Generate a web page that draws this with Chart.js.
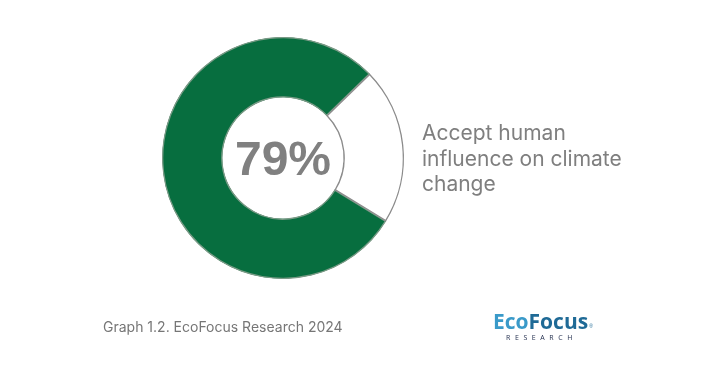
<!DOCTYPE html>
<html>
<head>
<meta charset="utf-8">
<script src="https://cdn.jsdelivr.net/npm/chart.js@4/dist/chart.umd.min.js"></script>
<style>
  html, body { margin: 0; padding: 0; background: #fff; }
  #wrap { position: relative; width: 720px; height: 389px; }
</style>
</head>
<body>
<div id="wrap"><canvas id="c" width="720" height="389"></canvas></div>
<script>
// values
const categories = ['Accept', 'Other'];
const shares = [79, 21];
const centerLabel = '79%';
const sideLabel = ['Accept human', 'influence on climate', 'change'];
const footnote = 'Graph 1.2. EcoFocus Research 2024';

const GREEN = '#076e3f';
const GREY_TEXT = '#7f7f7f';

// center value, side label, footnote and logo
const textPlugin = {
  id: 'texts',
  afterDraw(chart) {
    const ctx = chart.ctx;
    const meta = chart.getDatasetMeta(0).data[0];
    ctx.save();
    ctx.fillStyle = '#808080';
    ctx.font = 'bold 48px "Liberation Sans", Arial, sans-serif';
    ctx.textAlign = 'center';
    ctx.textBaseline = 'alphabetic';
    ctx.fillText(centerLabel, meta.x, meta.y + 17);

    ctx.textAlign = 'left';
    ctx.fillStyle = GREY_TEXT;
    ctx.font = '21px Inter, "Open Sans", sans-serif';
    sideLabel.forEach((line, i) => ctx.fillText(line, 422, 140 + i * 25.5));

    ctx.font = '14px Inter, "Open Sans", sans-serif';
    ctx.fillStyle = '#767676';
    ctx.fillText(footnote, 103, 332);

    // logo
    ctx.font = 'bold 21px "Open Sans", Inter, sans-serif';
    ctx.fillStyle = '#3a9ac9';
    ctx.fillText('Eco', 493, 329);
    const w = ctx.measureText('Eco').width;
    ctx.fillStyle = '#1f6a96';
    ctx.fillText('Focus', 493 + w, 329);
    const w2 = ctx.measureText('Focus').width;
    ctx.font = '5px sans-serif';
    ctx.fillText('®', 493 + w + w2 + 1, 328);
    ctx.font = '7px "Open Sans", sans-serif';
    ctx.fillStyle = '#1e2a4a';
    ctx.letterSpacing = '4.6px';
    ctx.fillText('RESEARCH', 506, 340);
    ctx.restore();
  }
};

new Chart(document.getElementById('c'), {
  type: 'doughnut',
  data: {
    labels: categories,
    datasets: [{
      data: shares,
      backgroundColor: [GREEN, '#ffffff'],
      borderColor: ['#7a9a86', '#8c8c8c'],
      borderWidth: 1,
      borderAlign: 'inner',
    }]
  },
  options: {
    responsive: false,
    animation: false,
    rotation: 121.5,
    cutout: '50%',
    layout: { padding: { left: 162, right: 316, top: 37, bottom: 110 } },
    plugins: {
      legend: { display: false },
      tooltip: { enabled: false },
    }
  },
  plugins: [textPlugin]
});
</script>
</body>
</html>
